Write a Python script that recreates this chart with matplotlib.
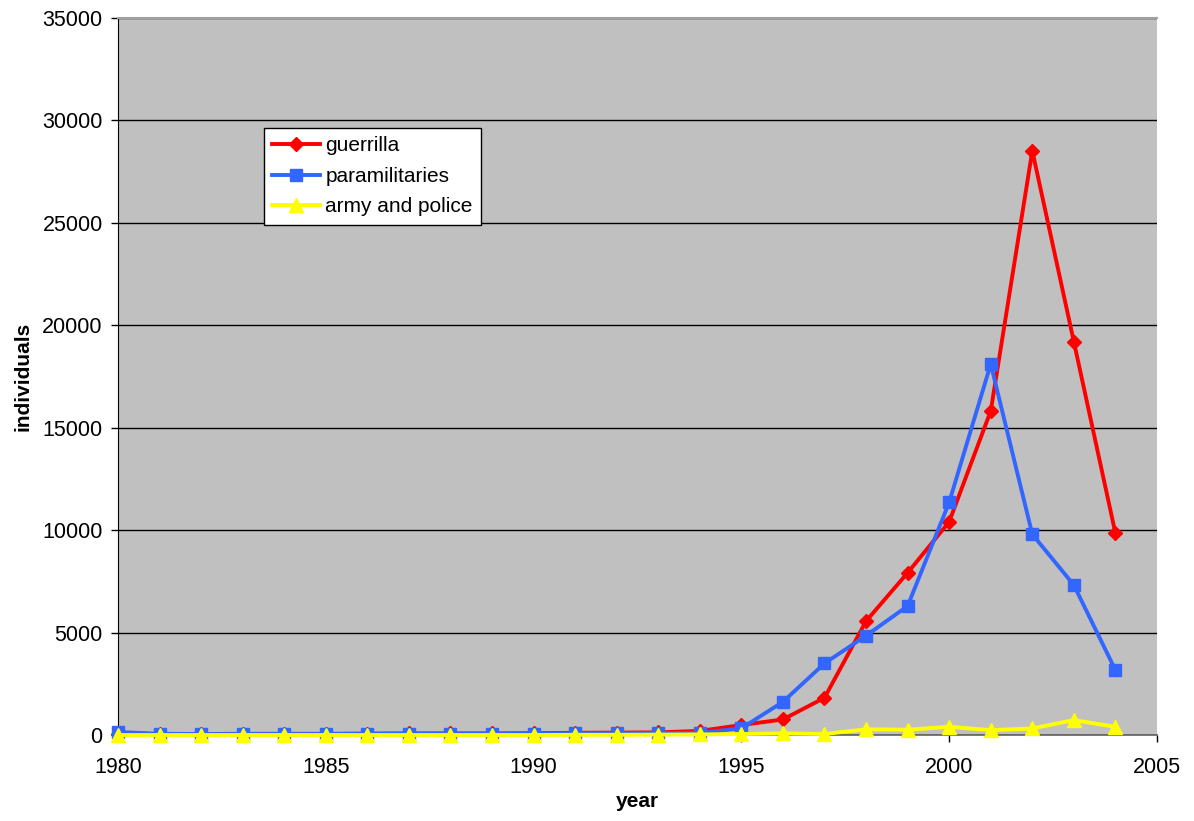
import matplotlib
matplotlib.use("Agg")
import matplotlib.pyplot as plt

plt.rcParams['font.family'] = ['Liberation Sans', 'DejaVu Sans']

years = list(range(1980, 2005))
guerrilla = [50, 50, 50, 60, 60, 60, 70, 80, 80, 80, 90, 110, 120, 130, 200,
             490, 760, 1820, 5560, 7920, 10410, 15820, 28520, 19200, 9850]
paramilitaries = [150, 60, 50, 50, 50, 50, 60, 60, 60, 60, 70, 80, 90, 90, 100,
                  330, 1620, 3500, 4850, 6300, 11360, 18110, 9800, 7320, 3170]
army_police = [0, 0, 0, 0, 0, 0, 0, 0, 0, 0, 0, 10, 10, 20, 30,
               50, 80, 50, 280, 260, 400, 240, 320, 730, 400]

fig = plt.figure(figsize=(11.94, 8.21), dpi=100)
ax = fig.add_axes([0.0988, 0.1047, 0.8702, 0.8733])
ax.set_facecolor('#C0C0C0')

ax.plot(years, guerrilla, color='#FF0000', lw=2.8, marker='D', markersize=7.5,
        label='guerrilla', clip_on=False, zorder=3)
ax.plot(years, paramilitaries, color='#3366FF', lw=2.8, marker='s', markersize=9,
        label='paramilitaries', clip_on=False, zorder=4)
ax.plot(years, army_police, color='#FFFF00', lw=2.8, marker='^', markersize=10,
        label='army and police', clip_on=False, zorder=5)

ax.set_xlim(1980, 2005)
ax.set_ylim(0, 35000)
ax.set_xticks(range(1980, 2006, 5))
ax.set_yticks(range(0, 35001, 5000))
ax.yaxis.grid(True, color='black', lw=1)
ax.set_axisbelow(True)

ax.spines['right'].set_visible(False)
ax.spines['top'].set_color('#A0A0A0')
ax.spines['top'].set_linewidth(1.5)
ax.spines['left'].set_color('black')
ax.spines['bottom'].set_color('#606060')
ax.spines['bottom'].set_linewidth(1.2)
ax.tick_params(axis='both', direction='out', length=5, width=1, labelsize=15.5,
               colors='black', pad=6)
ax.tick_params(axis='x', pad=11)

ax.set_xlabel('year', fontsize=15, fontweight='bold', labelpad=10)
ax.set_ylabel('individuals', fontsize=15, fontweight='bold', labelpad=7)

leg = ax.legend(loc='upper left', bbox_to_anchor=(0.1405, 0.8466), borderaxespad=0,
                fontsize=15, fancybox=False, framealpha=1, edgecolor='black',
                handlelength=2.3, handletextpad=0.25, labelspacing=0.55,
                borderpad=0.4)
leg.get_frame().set_linewidth(1)

fig.savefig('out.png', dpi=100)
